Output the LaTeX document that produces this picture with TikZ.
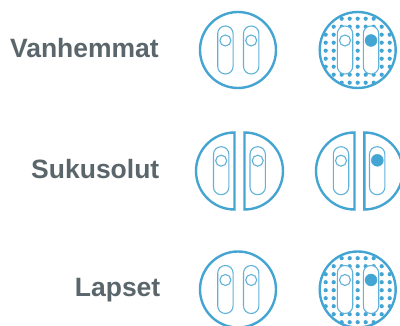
\documentclass[tikz,border=0pt]{standalone}
\usepackage{fontspec}
\setmainfont{Liberation Sans}
\usepackage{xcolor}
\usetikzlibrary{positioning}
\definecolor{cellblue}{HTML}{45A5D2}
\definecolor{labelgray}{HTML}{5A666B}

% dots behind a round cell, centre #1,#2
\newcommand{\celldots}[2]{%
  \begin{scope}
    \clip (#1,#2) circle (38);
    \foreach \i in {-4,...,4}
      \foreach \j in {-4,...,4}
        \fill[cellblue] ({#1+8*\i},{#2+0.7+8*\j}) circle (2.1);
  \end{scope}}
% chromosome, left edge #1, top edge #2
\newcommand{\chromo}[2]{%
  \draw[chrom] (#1,#2) rectangle ++(15.4,48);}

\begin{document}
\begin{tikzpicture}[
  x=1pt, y=-1pt,
  ring/.style={draw=cellblue, line width=2.4pt},
  chrom/.style={draw=cellblue!85, line width=1.1pt, rounded corners=7.6pt, fill=white},
  allele/.style={draw=cellblue!85, line width=1.1pt, fill=white},
  mutant/.style={draw=cellblue, fill=cellblue},
  lbl/.style={font=\bfseries\fontsize{26.5}{30}\selectfont, text=labelgray, anchor=base east, inner sep=0pt},
]
\useasboundingbox (0,0) rectangle (400,326);
\clip (0,0) rectangle (400,326);

% labels
\node[lbl] (parents) at (159,57.7) {Vanhemmat};
\node[lbl] (gametes) at (159.5,178.3) {Sukusolut};
\node[lbl] (children) at (160.5,296.7) {Lapset};

% round cells, healthy
\foreach \y in {50,289.5} {
  \draw[ring] (238,\y) circle (38);
  \chromo{217.7}{\y-24}
  \chromo{243.5}{\y-24}
  \draw[allele] (225.4,\y-9.5) circle (5.5);
  \draw[allele] (251.2,\y-9.5) circle (5.5);
}
% round cells, carrier
\foreach \y in {50,289.5} {
  \celldots{357.7}{\y}
  \draw[ring] (357.7,\y) circle (38);
  \chromo{337.3}{\y-24}
  \chromo{363.3}{\y-24}
  \draw[allele] (345,\y-9.5) circle (5.5);
  \fill[mutant] (371,\y-9.5) circle (6);
}

% halved cells
\foreach \xl/\xr in {234.5/244.5,354.5/364.3} {
  \draw[ring] (\xl,132.5) arc (-90:-270:38.5) -- cycle;
  \draw[ring] (\xr,132.5) arc (-90:90:38.5) -- cycle;
}
\chromo{213.5}{146.7}
\chromo{250}{146.7}
\chromo{333.3}{146.7}
\chromo{369.5}{146.7}
\draw[allele] (221.2,160.7) circle (5.5);
\draw[allele] (257.7,160.7) circle (5.5);
\draw[allele] (341,160.7) circle (5.5);
\fill[mutant] (377.3,160.3) circle (6);
\end{tikzpicture}
\end{document}
